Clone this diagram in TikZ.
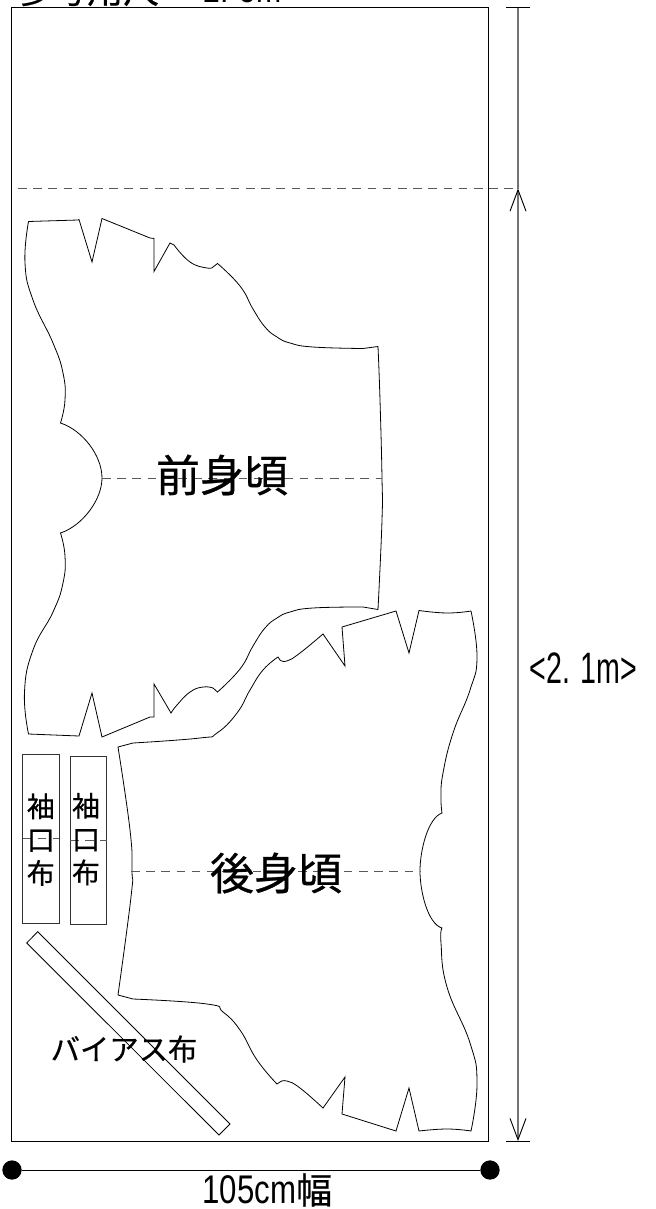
\documentclass[tikz,border=0pt]{standalone}
\usepackage{fontspec}
\setmainfont[FakeBold=0.6]{Noto Sans CJK JP}
\newfontfamily\narrowlatin[FakeStretch=0.65]{Liberation Sans}
\newfontfamily\widelatin[FakeStretch=0.78]{Liberation Sans}
\usetikzlibrary{arrows.meta,shapes.geometric}
\newcommand{\fsize}[1]{\fontsize{#1}{#1}\selectfont}
\tikzset{
    piece/.style={line width=0.6pt, line join=miter},
    curved/.style={smooth, tension=0.8},
    foldline/.style={line width=0.7pt, black!65, dash pattern=on 6.4pt off 5pt},
    frameline/.style={line width=0.7pt},
    dimline/.style={line width=1pt, black!55},
    enddot/.style={circle, fill=black, inner sep=0pt, minimum size=14.5pt},
    piecename/.style={inner sep=0pt, font=\fsize{33}},
    smalllabel/.style={inner sep=0pt, align=center, font=\fsize{21}, text depth=0pt},
}
\begin{document}
\begin{tikzpicture}[x=0.75pt, y=-0.75pt]
    \useasboundingbox (0,0) rectangle (656,1209);

    % cloth
    \draw[frameline] (11.5,7) rectangle (488,1141);
    \node[anchor=base west, inner sep=0pt, font=\fsize{27}] (title) at (15,3) {参考用尺＝{\widelatin\fsize{29} 2. 5m}};

    % measure on the right
    \coordinate (top) at (518,7);
    \coordinate (fold) at (518,188.5);
    \coordinate (bottom) at (518,1141);
    \coordinate (foldstart) at (18,188.5);
    \coordinate (topl) at (506,7);
    \coordinate (topr) at (530,7);
    \coordinate (botl) at (506,1141);
    \coordinate (botr) at (530,1141);
    \draw[foldline] (foldstart)--(fold);
    \draw[dimline] (top)--(fold);
    \draw[dimline, {Straight Barb[length=16pt,width=12pt,black,line width=0.7pt]}-{Straight Barb[length=16pt,width=12pt,black,line width=0.7pt]}] (fold)--(bottom);
    \draw[frameline] (topl)--(topr);
    \draw[frameline] (botl)--(botr);
    \node[inner sep=0pt, font=\fsize{33}\narrowlatin] (length) at (583.5,668) {<2. 1m>};

    % measure below
    \node[enddot] (dotl) at (12,1170) {};
    \node[enddot] (dotr) at (490,1170) {};
    \draw[frameline] (dotl)--(dotr);
    \node[inner sep=0pt, font=\fsize{27}] (width) at (263,1190) {{\widelatin\fsize{30} 105cm}幅};

    % front piece
    \draw[piece] (28.5,221.5)--(78,220)--(79,219.5)--(92,262)--(102,218.5)--(150,238)--(154,238.5)--(154,271.5)--(170,243)--(174,245)
        -- plot[curved] coordinates {(174,245) (190,262) (207,268) (213,267)}
        --(217.5,263.5)
        -- plot[curved] coordinates {(217.5,263.5) (240,286) (253,309) (265,327) (277,337) (290,343) (313,347) (363,348.5)}
        --(378,346.5)
        -- plot[curved] coordinates {(378,346.5) (380,400) (382,478) (382,520) (378,609.5)}
        --(363,607)
        -- plot[curved] coordinates {(363,607) (313,608) (290,612) (277,618) (265,628) (253,646) (240,669) (217.5,692)}
        --(213,688)
        -- plot[curved] coordinates {(213,688) (203,687) (190,692) (177,705) (171,713)}
        --(154,684)--(154,717)--(150,717)--(102,737)--(92,693)--(79,736)--(28.5,734)
        -- plot[curved] coordinates {(28.5,734) (24.5,692) (33,650) (53,612) (63,583) (65,556) (60.5,533)}
        .. controls (82,526) and (102,500) .. (102,478)
        .. controls (102,455) and (82,430) .. (60.5,423)
        -- plot[curved] coordinates {(60.5,423) (65,400) (63,373) (53,343) (33,300) (25,263) (28.5,221.5)};
    \coordinate (frontl) at (102,478);
    \coordinate (frontr) at (382,478);
    \draw[foldline] (frontl)--(frontr);
    \node[piecename] (front) at (222,475) {前身頃};

    % back piece
    \draw[piece] (471,611)
        -- plot[curved] coordinates {(471,611) (447,613) (419,610.5)}
        --(409,653)--(396,611)--(342,627)--(345,666)--(323,634)
        -- plot[curved] coordinates {(323,634) (300,653) (287,661) (280,660)}
        --(278,657)
        -- plot[curved] coordinates {(278,657) (263,670) (250,690) (237,713) (217,733) (200,738) (133,743)}
        --(118,747)
        -- plot[curved] coordinates {(118,747) (130,830) (132,871) (131,897) (118,995)}
        --(133,999)
        -- plot[curved] coordinates {(133,999) (207,1004) (223,1012) (240,1030) (257,1060) (277,1084)}
        --(280,1082)
        -- plot[curved] coordinates {(280,1082) (287,1081) (300,1088) (323,1108)}
        --(345,1077)--(342,1114)--(396,1131)--(409,1088)--(419,1131)
        -- plot[curved] coordinates {(419,1131) (447,1129) (471,1131)}
        -- plot[curved] coordinates {(471,1131) (477,1083) (470,1043) (447,987) (441,943) (442,928)}
        .. controls (428,924) and (420,892) .. (420,871)
        .. controls (420,850) and (428,818) .. (442,813)
        -- plot[curved] coordinates {(442,813) (441,797) (443,773) (453,733) (470,690) (477,657) (471,611)};
    \coordinate (backl) at (131,871);
    \coordinate (backr) at (420,871);
    \draw[foldline] (backl)--(backr);
    \node[piecename] (back) at (276,873) {後身頃};

    % cuff cloths
    \draw[piece, black!80] (22.5,754) rectangle (59,923);
    \draw[piece, black!80] (70,756) rectangle (106.5,924);
    \coordinate (cuffal) at (22.5,838.5);
    \coordinate (cuffar) at (59,838.5);
    \coordinate (cuffbl) at (70,840);
    \coordinate (cuffbr) at (106.5,840);
    \draw[foldline] (cuffal)--(cuffar);
    \draw[foldline] (cuffbl)--(cuffbr);
    \node[smalllabel] (cuffa) at (40.8,838.5) {袖\\[4pt]口\\[4pt]布};
    \node[smalllabel] (cuffb) at (86,838) {袖\\[4pt]口\\[4pt]布};

    % bias strip
    \draw[piece] (26.7,943)--(37.7,931.7)--(230,1124)--(219,1135)--cycle;
    \node[inner sep=0pt, font=\fsize{22}] (bias) at (124,1049) {バイアス布};
\end{tikzpicture}
\end{document}
